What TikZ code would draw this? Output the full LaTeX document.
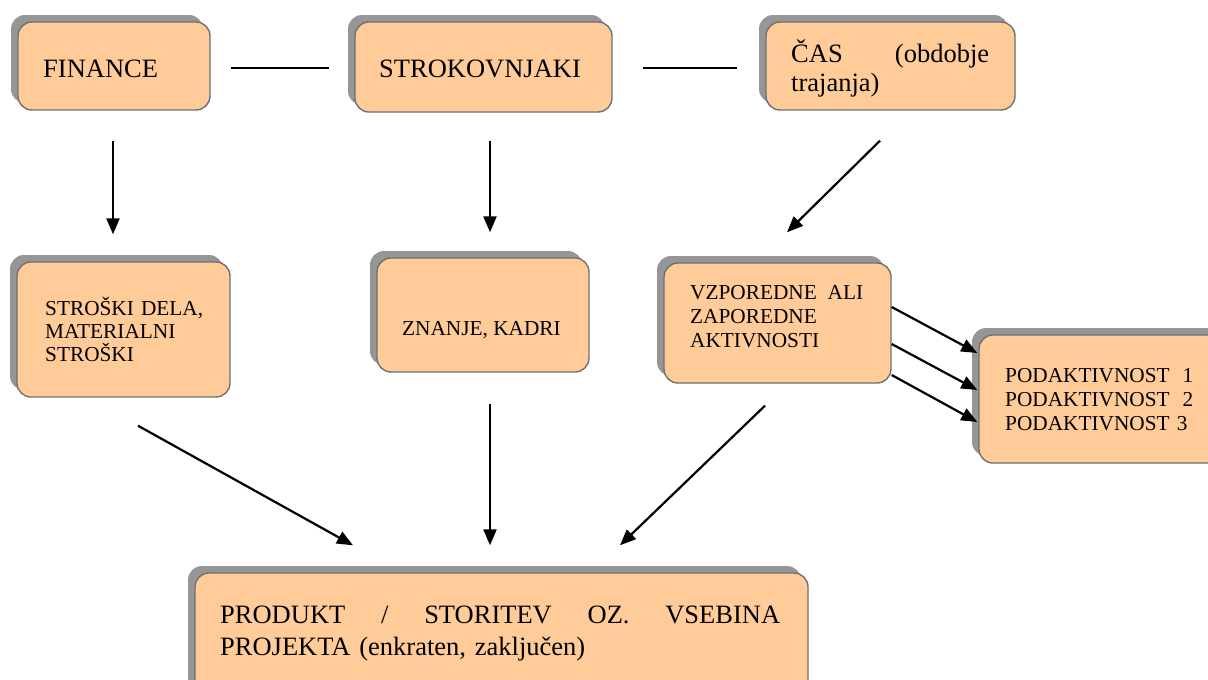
\documentclass[tikz,border=0pt]{standalone}
\usepackage{fontspec}
\setmainfont{Liberation Serif}
\usetikzlibrary{arrows.meta,shadows}
\definecolor{boxfill}{HTML}{FFCC99}
\definecolor{boxline}{HTML}{707070}
\definecolor{shade}{HTML}{969696}
\newcommand\spreadline[2]{\leavevmode\hbox to #1{#2}}
\tikzset{
  panel/.style={draw=boxline, line width=1.4pt, fill=boxfill, rounded corners=14pt,
    inner sep=0pt,
    drop shadow={shadow xshift=-7pt, shadow yshift=7pt, fill=shade, draw=none,
      opacity=1, rounded corners=14pt}},
  big/.style={font=\fontsize{26.5}{29}\selectfont},
  small/.style={font=\fontsize{21.3}{24}\selectfont},
  txt/.style={inner sep=0pt, anchor=base west, align=left},
  link/.style={line width=2.2pt},
  arr/.style={line width=2.2pt, -{Triangle[length=16pt,width=13pt]}}
}
\begin{document}
\begin{tikzpicture}[x=1pt,y=-1pt]
\useasboundingbox (0,0) rectangle (1208,680);
\clip (0,0) rectangle (1208,680);

% boxes
\node[panel, minimum width=192pt, minimum height=88pt]  (fin) at (114,66) {};
\node[panel, minimum width=257pt, minimum height=90pt]  (str) at (483.5,67) {};
\node[panel, minimum width=249pt, minimum height=88pt]  (cas) at (890.5,66) {};
\node[panel, minimum width=213pt, minimum height=135pt] (stro) at (123.5,329.5) {};
\node[panel, minimum width=212pt, minimum height=114pt] (zna) at (483,315) {};
\node[panel, minimum width=227pt, minimum height=120pt] (vzp) at (777.5,323) {};
\node[panel, minimum width=251pt, minimum height=128pt] (pod) at (1104.5,399) {};
\node[panel, minimum width=613pt, minimum height=137pt] (pro) at (501.5,641.5) {};

% texts
\node[txt, big] (fin-t) at (43,77) {FINANCE};
\node[txt, big] (str-t) at (379,77) {STROKOVNJAKI};
\node[txt, text width=200pt, font=\fontsize{26.5}{29}\selectfont] (cas-t) at (791,62)
  {\spreadline{198pt}{ČAS\hfill(obdobje}\\trajanja)};
\node[txt, text width=190pt, font=\fontsize{21.3}{23}\selectfont] (stro-t) at (45,315)
  {STROŠKI DELA,\\MATERIALNI\\STROŠKI};
\node[txt, small] (zna-t) at (402,335) {ZNANJE, KADRI};
\node[txt, small, text width=180pt] (vzp-t) at (690,299)
  {\spreadline{173pt}{VZPOREDNE\hfill ALI}\\ZAPOREDNE\\AKTIVNOSTI};
\node[txt, small, text width=200pt] (pod-t) at (1005,382)
  {\spreadline{188pt}{PODAKTIVNOST\hfill 1}\\\spreadline{188pt}{PODAKTIVNOST\hfill 2}\\PODAKTIVNOST 3};
\node[txt, text width=570pt, font=\fontsize{26.5}{32}\selectfont] (pro-t) at (220,623)
  {\spreadline{560pt}{PRODUKT\hfill/\hfill STORITEV\hfill OZ.\hfill VSEBINA}\\PROJEKTA (enkraten, zaključen)};

% plain links in the top row
\draw[link] ([shift={(20,2)}]fin.east) -- ([shift={(-25,1)}]str.west);
\draw[link] ([shift={(30,1)}]str.east) -- ([shift={(-28,2)}]cas.west);

% top row to middle row
\draw[arr] ([shift={(-1,30)}]fin.south) -- ([shift={(-10.5,-27)}]stro.north);
\draw[arr] ([shift={(6.5,28)}]str.south) -- ([shift={(7,-25)}]zna.north);
\draw[arr] ([shift={(-10.5,30)}]cas.south) -- ([shift={(9.5,-30)}]vzp.north);

% activities to sub-activities
\draw[arr] ([shift={(0,-16)}]vzp.east) -- ([shift={(-1,-46)}]pod.west);
\draw[arr] ([shift={(0,21)}]vzp.east) -- ([shift={(-1,-9)}]pod.west);
\draw[arr] ([shift={(0,52)}]vzp.east) -- ([shift={(-1,23)}]pod.west);

% middle row to the product
\draw[arr] ([shift={(14.5,28)}]stro.south) -- ([shift={(-148.5,-27)}]pro.north);
\draw[arr] ([shift={(7,31)}]zna.south) -- ([shift={(-11.5,-27)}]pro.north);
\draw[arr] ([shift={(-12.5,22)}]vzp.south) -- ([shift={(118.5,-27)}]pro.north);
\end{tikzpicture}
\end{document}
